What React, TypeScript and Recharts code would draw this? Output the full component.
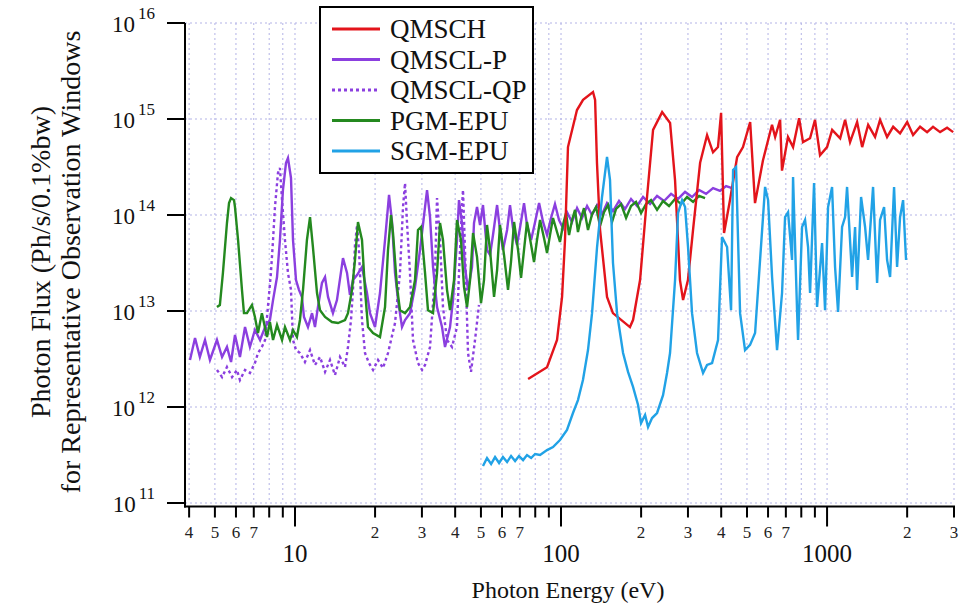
import React from "react";
import { LineChart, Line, XAxis, YAxis, CartesianGrid } from "recharts";

// [photon energy (eV), photon flux (ph/s/0.1%bw)]
const qmsch: [number, number][] = [
  [75.2, 1.96e12], [88.6, 2.6e12], [96.6, 5.0e12], [100.9, 1.4e13], [103.5, 5.5e13],
  [106.2, 5.1e14], [114.8, 1.24e15], [121, 1.58e15], [131.9, 1.91e15], [134.3, 1.58e15],
  [136.5, 3.5e14], [140.2, 7.0e13], [148.9, 1.4e13], [156.7, 9.5e12], [181.6, 6.8e12],
  [186.6, 8.1e12], [198.2, 2.1e13], [210.5, 1.54e14], [221.8, 7.7e14], [239.9, 1.18e15],
  [257, 9.1e14], [268.3, 2.3e14], [280, 2.1e13], [287.6, 1.3e13], [300, 2.1e13],
  [313.5, 7.0e13], [333.3, 3.5e14], [354, 6.8e14], [372.7, 4.5e14], [389, 5.1e14],
  [399.6, 1.16e15], [410, 6.5e13], [431.7, 1.43e14], [459, 4.0e14], [483, 5.1e14],
  [514, 9.3e14], [536, 1.33e14], [574, 3.7e14], [621, 8.7e14], [638, 6.5e14],
  [666, 9.8e14], [677, 2.9e14], [713, 6.5e14], [745, 5.1e14], [785, 1.02e15],
  [812, 5.75e14], [863, 6.3e14], [901, 9.8e14], [941, 4.2e14], [1000, 5.1e14],
  [1045, 7.7e14], [1120, 6.3e14], [1169, 9.8e14], [1220, 5.75e14], [1297, 9.3e14],
  [1355, 5.1e14], [1427, 8.7e14], [1515, 6.5e14], [1582, 9.8e14], [1681, 6.5e14],
  [1772, 8.3e14], [1881, 7.1e14], [2000, 9.3e14], [2105, 6.8e14], [2237, 8.3e14],
  [2377, 7.3e14], [2502, 8.3e14], [2660, 7.3e14], [2826, 8.1e14], [2979, 7.3e14],
];

const qmsclP: [number, number][] = [
  [4.03, 3.09e12], [4.21, 5.23e12], [4.39, 3.32e12], [4.59, 4.99e12], [4.79, 3.09e12],
  [5.09, 4.99e12], [5.32, 3.32e12], [5.55, 4.22e12], [5.75, 2.94e12], [5.95, 5.62e12],
  [6.21, 3.32e12], [6.49, 6.81e12], [6.77, 4.22e12], [7.07, 6.34e12], [7.39, 4.99e12],
  [7.72, 6.81e12], [8.05, 8.06e12], [8.27, 1.3e13], [8.56, 2.26e13], [8.78, 5.49e13],
  [9.01, 1.82e14], [9.25, 3.48e14], [9.41, 3.92e14], [9.66, 2.43e14], [9.83, 5.49e13],
  [10.09, 2.1e13], [10.35, 1.66e13], [10.62, 1.4e13], [10.81, 8.66e12], [11.19, 6.81e12],
  [11.59, 9.5e12], [11.89, 6.81e12], [12.2, 1.1e13], [12.63, 1.96e13], [12.97, 2.26e13],
  [13.31, 1.4e13], [13.89, 9.5e12], [14.38, 1.3e13], [15.15, 3.56e13], [15.69, 2.49e13],
  [16.09, 1.47e13], [16.52, 2.1e13], [17.11, 2.37e13], [17.86, 2.87e13], [18.65, 1.54e13],
  [19.14, 9.5e12], [19.99, 6.81e12], [20.87, 1.54e13], [21.8, 5.49e13], [22.57, 1.62e14],
  [23.16, 8.46e13], [23.77, 2.49e13], [24.39, 1.3e13], [25.25, 6.81e12], [25.92, 8.06e12],
  [27.06, 9.5e12], [28.26, 1.78e13], [29.51, 4.32e13], [30.82, 1.21e14], [31.36, 1.82e14],
  [32.18, 9.5e13], [33.03, 2.87e13], [34.19, 1.1e13], [35.7, 6.81e12], [36.64, 4.22e12],
  [38.26, 6.81e12], [39.26, 1.3e13], [40.64, 5.49e13], [41.35, 1.43e14], [42.44, 8.25e13],
  [43.56, 2.87e13], [44.71, 1.66e13], [46.28, 2.87e13], [47.09, 8.25e13], [48.33, 1.21e14],
  [49.61, 7.87e13], [50.9, 1.27e14], [52.7, 4.32e13], [54.1, 3.83e13], [55.5, 6.19e13],
  [57.5, 1.27e14], [58.97, 6.98e13], [60.5, 4.32e13], [62.7, 6.98e13], [64.3, 1.27e14],
  [66.0, 7.32e13], [68.3, 4.87e13], [70.1, 7.32e13], [72.6, 1.33e14], [74.5, 7.87e13],
  [77.2, 5.49e13], [79.9, 8.46e13], [82.7, 1.33e14], [85.6, 8.46e13], [88.6, 6.19e13],
  [91.7, 9.3e13], [94.9, 1.3e14], [98.3, 8.87e13], [101.7, 7.32e13], [105.3, 1.07e14],
  [110, 8.46e13], [114.9, 1.18e14], [119.9, 9.3e13], [125.3, 1.24e14], [130.8, 1.0e14],
  [136.6, 1.27e14], [142.6, 1.02e14], [148.9, 1.33e14], [156.8, 1.1e14], [165.2, 1.4e14],
  [174, 1.155e14], [183.3, 1.47e14], [193.1, 1.24e14], [203.4, 1.54e14], [216.1, 1.3e14],
  [229.6, 1.58e14], [243.9, 1.4e14], [259.2, 1.66e14], [275.4, 1.47e14], [292.6, 1.74e14],
  [310.8, 1.54e14], [330.3, 1.82e14], [350.9, 1.66e14], [372.8, 1.91e14], [396.1, 1.78e14],
  [417.3, 2.0e14], [439.5, 1.91e14],
];

const qmsclQP: [number, number][] = [
  [5.09, 2.43e12], [5.32, 2.05e12], [5.55, 2.61e12], [5.8, 2.05e12], [6.05, 2.43e12],
  [6.21, 1.91e12], [6.49, 2.43e12], [6.77, 2.26e12], [7.07, 2.87e12], [7.26, 3.65e12],
  [7.51, 4.22e12], [7.72, 4.99e12], [7.91, 1.1e13], [8.12, 2.49e13], [8.27, 5.49e13],
  [8.41, 1.21e14], [8.63, 2.74e14], [8.78, 3.09e14], [8.94, 1.43e14], [9.17, 5.49e13],
  [9.41, 2.49e13], [9.66, 1.66e13], [9.83, 4.99e12], [10.09, 3.92e12], [10.44, 3.65e12],
  [10.9, 2.94e12], [11.39, 3.92e12], [11.89, 2.74e12], [12.42, 3.32e12], [12.97, 2.32e12],
  [13.54, 3.09e12], [14.14, 2.15e12], [14.76, 3.32e12], [15.42, 2.61e12], [15.82, 4.22e12],
  [16.24, 8.06e12], [16.52, 1.66e13], [16.81, 4.87e13], [17.11, 7.87e13], [17.4, 4.32e13],
  [17.86, 8.06e12], [18.33, 3.65e12], [18.97, 2.87e12], [19.65, 2.43e12], [20.51, 3.09e12],
  [21.42, 2.55e12], [22.37, 3.65e12], [23.77, 7.5e12], [24.81, 2.49e13], [25.47, 1.21e14],
  [25.92, 2.15e14], [26.37, 8.25e13], [27.06, 2.49e13], [27.77, 4.99e12], [29.0, 2.87e12],
  [30.03, 2.43e12], [30.82, 2.74e12], [32.18, 4.22e12], [33.6, 2.49e13], [34.19, 1.5e14],
  [35.09, 5.49e13], [36.0, 1.1e13], [37.28, 4.99e12], [38.93, 4.22e12], [40.64, 6.81e12],
  [41.35, 2.49e13], [42.44, 1.21e14], [42.81, 1.82e14], [43.56, 4.32e13], [44.71, 3.65e12],
  [45.88, 2.32e12], [47.5, 4.99e12], [49.17, 1.155e13],
];

const pgmEpu: [number, number][] = [
  [5.09, 1.1e13], [5.22, 1.155e13], [5.36, 2.49e13], [5.55, 8.25e13], [5.65, 1.33e14],
  [5.75, 1.5e14], [5.9, 1.43e14], [5.95, 1.21e14], [6.11, 5.49e13], [6.32, 1.66e13],
  [6.43, 9.5e12], [6.6, 9.5e12], [6.89, 1.155e13], [7.07, 8.66e12], [7.26, 5.9e12],
  [7.51, 9.5e12], [7.85, 5.36e12], [8.05, 7.68e12], [8.27, 4.99e12], [8.56, 7.15e12],
  [8.94, 4.99e12], [9.17, 6.81e12], [9.58, 4.99e12], [9.83, 6.34e12], [10.17, 5.36e12],
  [10.44, 8.06e12], [10.72, 1.66e13], [11.09, 5.49e13], [11.39, 9.5e13], [11.68, 4.64e13],
  [12.1, 1.54e13], [12.42, 1.02e13], [12.97, 8.66e12], [13.77, 7.68e12], [14.51, 7.5e12],
  [15.42, 8.06e12], [15.82, 9.5e12], [16.38, 1.66e13], [16.81, 3.4e13], [17.25, 8.46e13],
  [17.86, 5.49e13], [18.33, 1.66e13], [18.81, 6.81e12], [19.65, 5.9e12], [20.87, 5.36e12],
  [21.8, 1.1e13], [22.37, 4.32e13], [22.96, 1.0e14], [23.36, 6.49e13], [24.18, 1.78e13],
  [24.81, 1.02e13], [25.92, 9.5e12], [27.06, 1.1e13], [28.26, 2.1e13], [29.0, 6.98e13],
  [29.77, 7.5e13], [30.82, 2.49e13], [31.62, 1.02e13], [33.03, 9.5e12], [34.19, 2.49e13],
  [35.09, 8.25e13], [36.0, 5.49e13], [37.28, 1.66e13], [38.26, 1.02e13], [39.61, 2.1e13],
  [40.64, 8.87e13], [42.07, 5.49e13], [43.18, 1.78e13], [44.33, 1.1e13], [45.5, 2.1e13],
  [46.7, 6.49e13], [48.33, 3.65e13], [50.03, 1.21e13], [51.34, 2.1e13], [52.7, 7.87e13],
  [54.1, 4.32e13], [56.0, 1.4e13], [57.5, 2.67e13], [58.97, 7.87e13], [61.06, 3.83e13],
  [63.21, 1.66e13], [64.86, 3.24e13], [66.6, 8.46e13], [68.94, 4.32e13], [70.74, 2.21e13],
  [72.6, 4.32e13], [74.5, 8.46e13], [77.2, 4.87e13], [79.15, 3.24e13], [81.23, 5.49e13],
  [83.4, 8.87e13], [86.3, 5.76e13], [88.6, 4.02e13], [90.9, 6.19e13], [93.3, 9.3e13],
  [96.6, 6.65e13], [99.1, 5.23e13], [101.7, 7.87e13], [104.4, 1.05e14], [107.2, 6.19e13],
  [110.0, 8.87e13], [112.9, 1.13e14], [115.8, 6.65e13], [118.9, 9.3e13], [122.0, 1.18e14],
  [126.3, 6.98e13], [130.8, 1.02e14], [135.4, 1.21e14], [140.2, 7.68e13], [145.1, 1.07e14],
  [150.2, 1.27e14], [155.5, 8.46e13], [161.0, 1.155e14], [168.2, 1.3e14], [175.6, 9.3e13],
  [183.3, 1.24e14], [191.4, 1.37e14], [199.9, 1.05e14], [208.7, 1.3e14], [217.9, 1.43e14],
  [229.6, 1.13e14], [241.8, 1.4e14], [254.7, 1.24e14], [268.3, 1.47e14], [282.6, 1.3e14],
  [297.7, 1.54e14], [313.6, 1.37e14], [330.3, 1.58e14], [347.9, 1.5e14],
];

const sgmEpu: [number, number][] = [
  [50.9, 2.43e11], [52.7, 2.94e11], [54.6, 2.55e11], [56.5, 3.01e11], [58.5, 2.61e11],
  [60.5, 3.01e11], [62.7, 2.67e11], [64.9, 3.09e11], [67.2, 2.74e11], [69.5, 3.09e11],
  [72.0, 2.8e11], [74.5, 3.16e11], [77.2, 2.94e11], [79.9, 3.24e11], [83.4, 3.16e11],
  [88.6, 3.56e11], [93.3, 3.83e11], [99.1, 4.53e11], [105.3, 5.76e11], [110.9, 8.66e11],
  [115.8, 1.18e12], [120.9, 1.91e12], [126.3, 3.92e12], [130.8, 9.5e12], [136.6, 4.64e13],
  [142.6, 1.54e14], [148.9, 4.02e14], [152.8, 2.32e14], [156.8, 3.16e13], [162.4, 9.5e12],
  [171.1, 3.65e12], [178.6, 2.32e12], [186.5, 1.62e12], [194.8, 1.05e12], [199.9, 6.8e11],
  [207, 8.26e11], [212.4, 6.19e11], [219.9, 7.67e11], [229.6, 8.66e11], [241.8, 1.33e12],
  [250.3, 2.26e12], [256.9, 3.65e12], [268.3, 2.1e13], [275.4, 1.05e14], [285.1, 1.43e14],
  [292.6, 1.21e14], [300.2, 4.64e13], [310.8, 9.5e12], [324.5, 3.65e12], [341.9, 2.26e12],
  [353.9, 2.74e12], [369.6, 2.87e12], [389.2, 4.99e12], [403, 5.9e13], [420.9, 4.64e13],
  [435.7, 1.02e13], [443.3, 2.94e14], [455, 3.16e14], [471, 9.5e12], [491.7, 3.92e12],
  [513.5, 4.43e12], [536.3, 5.9e12], [560, 3.4e13], [584.8, 1.96e14], [600.2, 1.43e14],
  [621.3, 2.26e13], [648.6, 3.92e12], [677.3, 1.54e13], [695.2, 9.5e13], [713.5, 1.07e14],
  [738.6, 3.4e13], [745, 2.49e14], [771.2, 1.02e13], [778, 4.99e12], [805.4, 7.5e13],
  [826.6, 8.87e13], [848.4, 4.64e13], [863.2, 1.54e13], [893.5, 2.15e14], [917.1, 1.1e13],
  [957.7, 5.1e13], [982.9, 1.02e13], [1008.7, 1.21e14], [1044.2, 1.96e14], [1071.7, 2.87e13],
  [1100, 9.8e12], [1138.7, 7.5e13], [1168.7, 9.5e13], [1189, 1.96e14], [1241.7, 2.26e13],
  [1274.4, 7.5e13], [1296.7, 1.66e13], [1342.2, 1.54e14], [1389.6, 7.5e13], [1426, 3.4e13],
  [1489, 1.96e14], [1541.7, 1.96e13], [1582, 8.87e13], [1638, 1.21e14], [1681, 3.4e13],
  [1725.5, 2.26e13], [1786, 1.96e14], [1833, 2.87e13], [1881, 9.5e13], [1931, 1.43e14],
  [1981, 3.4e13],
];

const seriesNames = ["QMSCH", "QMSCL-P", "QMSCL-QP", "PGM-EPU", "SGM-EPU"];

const xTicks = [
  4, 5, 6, 7, 8, 9, 10, 20, 30, 40, 50, 60, 70, 80, 90, 100,
  200, 300, 400, 500, 600, 700, 800, 900, 1000, 2000, 3000,
];
const xMajorTicks = [10, 100, 1000];
const xUnlabeledTicks = [8, 9, 80, 90, 800, 900];
const yTicks = [1e11, 1e12, 1e13, 1e14, 1e15, 1e16];

const W = 961;
const H = 607;
const PLOT_LEFT = 185;
const PLOT_RIGHT = 954;
const PLOT_TOP = 23;
const PLOT_BOTTOM = 503;
const X_AXIS_Y = 506.5; // the energy axis sits a few px under the 1e11 line
const FONT = "'Liberation Serif', 'Times New Roman', serif";

const COLORS: Record<string, string> = {
  "QMSCH": "#e3141b",
  "QMSCL-P": "#8b3fdf",
  "QMSCL-QP": "#8b3fdf",
  "PGM-EPU": "#24891f",
  "SGM-EPU": "#21a2e6",
};
const DASHED = "3 3";

const toRows = (pts: [number, number][]) => pts.map(([e, f]) => ({ e, f }));

function XTick(props: any) {
  const { x, payload } = props;
  const v = payload.value as number;
  const major = xMajorTicks.includes(v);
  const showMinor = !major && !xUnlabeledTicks.includes(v);
  return (
    <g>
      <line x1={x} x2={x} y1={X_AXIS_Y} y2={X_AXIS_Y + (major ? 20 : 11)} stroke="#000" strokeWidth={2} />
      {showMinor && (
        <text x={x} y={538} textAnchor="middle" fontSize={17} fontFamily={FONT} fill="#222">
          {String(v)[0]}
        </text>
      )}
      {major && (
        <text x={x} y={562} textAnchor="middle" fontSize={25} fontFamily={FONT} fill="#111">
          {v}
        </text>
      )}
    </g>
  );
}

function YTick(props: any) {
  const { y, payload } = props;
  const exp = Math.round(Math.log10(payload.value));
  return (
    <g>
      <line x1={PLOT_LEFT - 18} x2={PLOT_LEFT} y1={y} y2={y} stroke="#000" strokeWidth={2} />
      <text x={155} y={y + 9} textAnchor="end" fontFamily={FONT} fill="#111">
        <tspan fontSize={23}>10</tspan>
        <tspan fontSize={17} dx={3} dy={-13}>{exp}</tspan>
      </text>
    </g>
  );
}

function Legend() {
  const rowY = [29, 59.5, 90, 120.5, 151];
  return (
    <g>
      <rect x={320} y={7} width={213} height={166} fill="#fff" stroke="#000" strokeWidth={2} />
      {seriesNames.map((name, i) => (
        <g key={name}>
          <line
            x1={332}
            x2={380}
            y1={rowY[i]}
            y2={rowY[i]}
            stroke={COLORS[name]}
            strokeWidth={3}
            strokeDasharray={name === "QMSCL-QP" ? DASHED : undefined}
          />
          <text x={390} y={rowY[i] + 9} fontSize={27} fontFamily={FONT} fill="#111">
            {name}
          </text>
        </g>
      ))}
    </g>
  );
}

export default function App() {
  // draw order: dashed purple at the back, SGM on top
  const drawOrder = ["QMSCL-QP", "QMSCL-P", "PGM-EPU", "QMSCH", "SGM-EPU"];
  const seriesData: Record<string, [number, number][]> = {
    "QMSCH": qmsch,
    "QMSCL-P": qmsclP,
    "QMSCL-QP": qmsclQP,
    "PGM-EPU": pgmEpu,
    "SGM-EPU": sgmEpu,
  };

  return (
    <div style={{ position: "absolute", left: 0, top: 0, width: W, height: H, background: "#fff", fontFamily: FONT }}>
      <LineChart width={W} height={H} margin={{ top: PLOT_TOP, right: W - PLOT_RIGHT, bottom: 0, left: 0 }}>
        <CartesianGrid stroke="#b3b3e6" strokeDasharray="2 3" strokeWidth={1} />
        <XAxis
          type="number"
          dataKey="e"
          scale="log"
          domain={[3.86, 3000]}
          allowDataOverflow
          ticks={xTicks}
          interval={0}
          height={H - PLOT_BOTTOM}
          tick={<XTick />}
          tickLine={false}
          axisLine={false}
        />
        <YAxis
          type="number"
          scale="log"
          domain={[1e11, 1e16]}
          allowDataOverflow
          ticks={yTicks}
          interval={0}
          width={PLOT_LEFT}
          tick={<YTick />}
          tickLine={false}
          axisLine={{ stroke: "#000", strokeWidth: 2 }}
        />
        {drawOrder.map((name) => (
          <Line
            key={name}
            data={toRows(seriesData[name])}
            dataKey="f"
            name={name}
            type="linear"
            stroke={COLORS[name]}
            strokeWidth={2.4}
            strokeDasharray={name === "QMSCL-QP" ? DASHED : undefined}
            dot={false}
            isAnimationActive={false}
          />
        ))}
      </LineChart>
      <svg width={W} height={H} style={{ position: "absolute", left: 0, top: 0, pointerEvents: "none" }}>
        <line x1={PLOT_LEFT} x2={PLOT_LEFT} y1={PLOT_BOTTOM} y2={X_AXIS_Y + 1} stroke="#000" strokeWidth={2} />
        <line x1={PLOT_LEFT - 1} x2={PLOT_RIGHT + 1} y1={X_AXIS_Y} y2={X_AXIS_Y} stroke="#000" strokeWidth={2} />
        <Legend />
        <text x={568} y={598} textAnchor="middle" fontSize={24} fontFamily={FONT} fill="#111">
          Photon Energy (eV)
        </text>
        <g transform="translate(50, 262) rotate(-90)">
          <text x={0} y={0} textAnchor="middle" fontSize={28} fontFamily={FONT} fill="#111">
            Photon Flux (Ph/s/0.1%bw)
          </text>
        </g>
        <g transform="translate(80, 262) rotate(-90)">
          <text x={0} y={0} textAnchor="middle" fontSize={28} fontFamily={FONT} fill="#111">
            for Representative Observation Windows
          </text>
        </g>
      </svg>
    </div>
  );
}
